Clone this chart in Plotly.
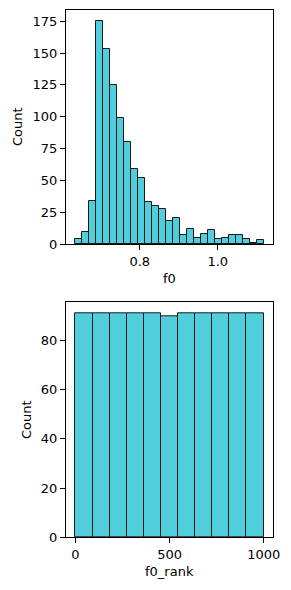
import numpy as np
import plotly.graph_objects as go

# ---- data ----
f0_counts = [4, 10, 34, 175, 153, 125, 99, 80, 59, 52, 33, 30, 28, 18, 21,
             7, 12, 5, 8, 11, 4, 5, 7, 7, 4, 1, 3]
f0_range = [0.635, 1.1175]
rank_counts = [91, 91, 91, 91, 91, 90, 91, 91, 91, 91, 91]
rank_range = [0, 999]

top_yticks = [0, 25, 50, 75, 100, 125, 150, 175]
top_xticks = [0.8, 1.0]
top_xticklabels = ["0.8", "1.0"]
bot_yticks = [0, 20, 40, 60, 80]
bot_xticks = [0, 500, 1000]

W, H = 291, 590
FILL = "rgb(81,206,219)"
EDGE = "rgb(25,25,25)"
FONT = "DejaVu Sans"


def bins(counts, rng):
    edges = np.linspace(rng[0], rng[1], len(counts) + 1)
    centers = (edges[:-1] + edges[1:]) / 2
    width = edges[1] - edges[0]
    return centers, width


fig = go.Figure()

c1, w1 = bins(f0_counts, f0_range)
fig.add_trace(go.Bar(x=c1, y=f0_counts, width=w1, marker=dict(color=FILL, line=dict(color=EDGE, width=1)),
                     xaxis="x", yaxis="y", showlegend=False))
c2, w2 = bins(rank_counts, rank_range)
fig.add_trace(go.Bar(x=c2, y=rank_counts, width=w2, marker=dict(color=FILL, line=dict(color=EDGE, width=1)),
                     xaxis="x2", yaxis="y2", showlegend=False))


def pad(rng, frac=0.05):
    s = rng[1] - rng[0]
    return [rng[0] - frac * s, rng[1] + frac * s]


axis_common = dict(showline=True, linecolor="black", linewidth=1, mirror=True,
                   ticks="outside", ticklen=5, tickwidth=1, tickcolor="black",
                   showgrid=False, zeroline=False, automargin=False,
                   tickfont=dict(family=FONT, size=13, color="black"))

x0, x1 = 66 / W, 273 / W
top_dom = [1 - 244.3 / H, 1 - 10 / H]
bot_dom = [1 - 537.3 / H, 1 - 302.3 / H]

fig.update_layout(
    width=W, height=H,
    margin=dict(l=0, r=0, t=0, b=0),
    paper_bgcolor="white", plot_bgcolor="white",
    bargap=0,
    xaxis=dict(domain=[x0, x1], anchor="y", range=pad(f0_range), tickvals=top_xticks,
               ticktext=top_xticklabels, **axis_common),
    yaxis=dict(domain=top_dom, anchor="x", range=[0, max(f0_counts) * 1.05],
               tickvals=top_yticks, **axis_common),
    xaxis2=dict(domain=[x0, x1], anchor="y2", range=pad(rank_range), tickvals=bot_xticks, **axis_common),
    yaxis2=dict(domain=bot_dom, anchor="x2", range=[0, max(rank_counts) * 1.05],
                tickvals=bot_yticks, **axis_common),
)

font = dict(family=FONT, size=13, color="black")
ann = [
    dict(text="f0", x=169.5 / W, y=1 - 278 / H),
    dict(text="f0_rank", x=169.5 / W, y=1 - 571.5 / H),
    dict(text="Count", x=17 / W, y=1 - 127 / H, textangle=-90),
    dict(text="Count", x=26 / W, y=1 - 420 / H, textangle=-90),
]
for a in ann:
    fig.add_annotation(xref="paper", yref="paper", showarrow=False, font=font,
                       xanchor="center", yanchor="middle", **a)

fig.write_html("out.html")
